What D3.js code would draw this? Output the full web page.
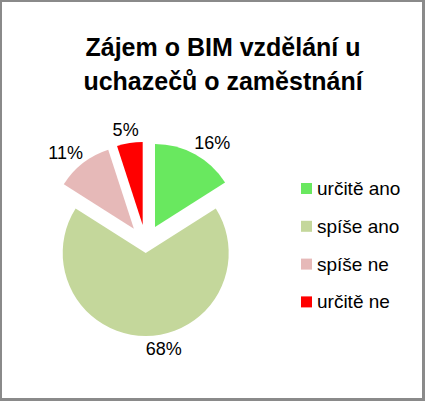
<!DOCTYPE html>
<html>
<head>
<meta charset="utf-8">
<script src="https://cdn.jsdelivr.net/npm/d3@7"></script>
<style>
  body { margin: 0; background: #fff; }
  text { font-family: "Liberation Sans", Arial, sans-serif; fill: #000; }
</style>
</head>
<body>
<div id="vis"></div>
<script>
// data
const CATEGORIES = ["určitě ano", "spíše ano", "spíše ne", "určitě ne"];
const VALUES = [16, 68, 11, 5];
const TITLE_LINES = ["Zájem o BIM vzdělání u", "uchazečů o zaměstnání"];

// layout constants
const FRAME_WIDTH = 425;
const FRAME_HEIGHT = 401;
const CENTER = {x: 145.7, y: 244};
const RADIUS = 83;
const COLORS = ["#69e85f", "#c4d79b", "#e6b9b8", "#ff0000"];
// explosion distance per slice (the big slice is pulled out less)
const EXPLODE = [19.3, 9, 19.3, 19.3];

const SVG = d3.select("#vis")
              .append("svg")
                .attr("width", FRAME_WIDTH)
                .attr("height", FRAME_HEIGHT);

// frame border
SVG.append("rect")
    .attr("x", 0).attr("y", 0)
    .attr("width", FRAME_WIDTH).attr("height", FRAME_HEIGHT)
    .attr("fill", "#8a8a8a");
SVG.append("rect")
    .attr("x", 2).attr("y", 2)
    .attr("width", FRAME_WIDTH - 5).attr("height", FRAME_HEIGHT - 5)
    .attr("fill", "#fff");

// title
SVG.append("text")
    .attr("x", 223)
    .attr("text-anchor", "middle")
    .attr("font-size", "25px")
    .attr("font-weight", "bold")
  .selectAll("tspan")
    .data(TITLE_LINES)
    .enter()
    .append("tspan")
      .attr("x", 223)
      .attr("y", (d, i) => 56 + i * 34)
      .text((d) => d);

// pie
const PIE = d3.pie().sort(null).value((d) => d.value);
const ARC = d3.arc().innerRadius(0).outerRadius(RADIUS);

const data = CATEGORIES.map((c, i) => ({category: c, value: VALUES[i], i: i}));
const arcs = PIE(data);

function midAngle(d) { return (d.startAngle + d.endAngle) / 2; }
function offset(d) {
  const a = midAngle(d), e = EXPLODE[d.data.i];
  return [e * Math.sin(a), -e * Math.cos(a)];
}

const G = SVG.append("g")
             .attr("transform", "translate(" + CENTER.x + "," + CENTER.y + ")");

G.selectAll("slices")
  .data(arcs)
  .enter()
  .append("path")
    .attr("d", ARC)
    .attr("fill", (d) => COLORS[d.data.i])
    .attr("transform", (d) => "translate(" + offset(d) + ")");

// data labels (outside end)
const labels = G.selectAll("labels")
  .data(arcs)
  .enter()
  .append("text")
    .attr("font-size", "18px")
    .attr("text-anchor", "middle")
    .attr("dominant-baseline", "central")
    .text((d) => d.data.value + "%");

labels.each(function(d) {
  const a = midAngle(d);
  const off = offset(d);
  const px = off[0] + RADIUS * Math.sin(a);
  const py = off[1] - RADIUS * Math.cos(a);
  const hw = this.getComputedTextLength() / 2;
  let sx = Math.max(-1, Math.min(1, Math.sin(a) * 2));
  if (Math.abs(Math.sin(a)) < 0.2 && Math.cos(a) < 0) sx = 1;
  d3.select(this)
    .attr("x", px + hw * sx)
    .attr("y", py - 13 * Math.cos(a));
});

// legend
const LEGEND = SVG.append("g")
                  .attr("transform", "translate(301,188.5)");

const rows = LEGEND.selectAll("rows")
  .data(CATEGORIES)
  .enter()
  .append("g")
    .attr("transform", (d, i) => "translate(0," + (i * 37.8) + ")");

rows.append("rect")
    .attr("x", 0).attr("y", -5.5)
    .attr("width", 11).attr("height", 11)
    .attr("fill", (d, i) => COLORS[i]);

rows.append("text")
    .attr("x", 16)
    .attr("y", 0)
    .attr("dominant-baseline", "central")
    .attr("font-size", "19px")
    .text((d) => d);
</script>
</body>
</html>
